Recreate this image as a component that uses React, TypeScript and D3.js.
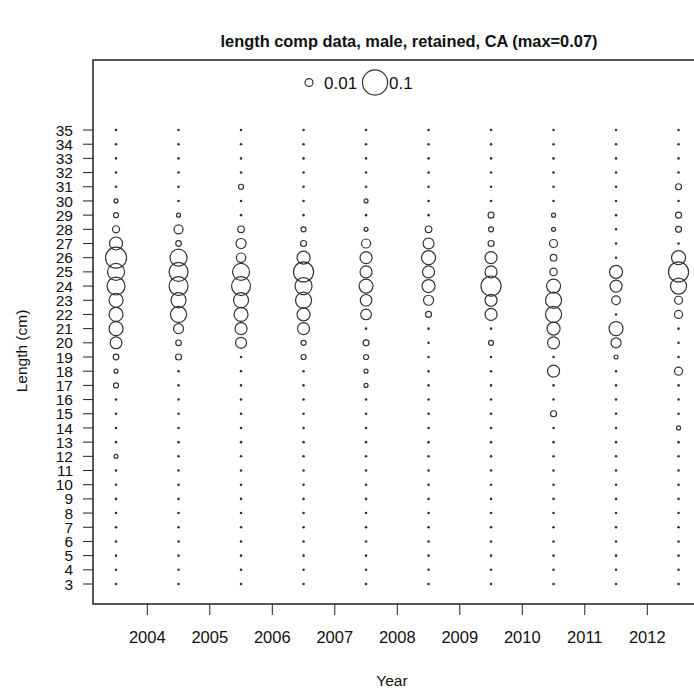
import React from "react";
import * as d3 from "d3";

// ---- data ----
const title = "length comp data, male, retained, CA (max=0.07)";
const yearTicks = [2004, 2005, 2006, 2007, 2008, 2009, 2010, 2011, 2012];
const columnYears = [2003.5, 2004.5, 2005.5, 2006.5, 2007.5, 2008.5, 2009.5, 2010.5, 2011.5, 2012.5];
const lengthBins = d3.range(3, 36); // 3..35 cm
const legendValues = [0.01, 0.1];

// proportions per column, lengths 3..35
const p2003 = [0, 0, 0, 0, 0, 0, 0, 0, 0, 0.0025,
  0, 0, 0, 0, 0.004, 0.0025, 0.005, 0.022, 0.031, 0.031,
  0.031, 0.051, 0.046, 0.07, 0.027, 0.008, 0.004, 0.0025, 0, 0,
  0, 0, 0];
const p2004 = [0, 0, 0, 0, 0, 0, 0, 0, 0, 0,
  0, 0, 0, 0, 0, 0, 0.0057, 0.005, 0.016, 0.041,
  0.036, 0.057, 0.057, 0.046, 0.005, 0.013, 0.0025, 0, 0, 0,
  0, 0, 0];
const p2005 = [0, 0, 0, 0, 0, 0, 0, 0, 0, 0,
  0, 0, 0, 0, 0, 0, 0, 0.019, 0.023, 0.031,
  0.036, 0.057, 0.046, 0.014, 0.016, 0.007, 0, 0, 0.004, 0,
  0, 0, 0];
const p2006 = [0, 0, 0, 0, 0, 0, 0, 0, 0, 0,
  0, 0, 0, 0, 0, 0, 0.004, 0.004, 0.023, 0.027,
  0.041, 0.046, 0.064, 0.027, 0.0057, 0.004, 0, 0, 0, 0,
  0, 0, 0];
const p2007 = [0, 0, 0, 0, 0, 0, 0, 0, 0, 0,
  0, 0, 0, 0, 0.0025, 0.0025, 0.004, 0.0057, 0, 0.018,
  0.021, 0.031, 0.023, 0.023, 0.013, 0.0025, 0, 0.0025, 0, 0,
  0, 0, 0];
const p2008 = [0, 0, 0, 0, 0, 0, 0, 0, 0, 0,
  0, 0, 0, 0, 0, 0, 0, 0, 0, 0.0057,
  0.016, 0.027, 0.023, 0.031, 0.019, 0.007, 0, 0, 0, 0,
  0, 0, 0];
const p2009 = [0, 0, 0, 0, 0, 0, 0, 0, 0, 0,
  0, 0, 0, 0, 0, 0, 0, 0.004, 0, 0.023,
  0.023, 0.064, 0.023, 0.023, 0.0057, 0.004, 0.0057, 0, 0, 0,
  0, 0, 0];
const p2010 = [0, 0, 0, 0, 0, 0, 0, 0, 0, 0,
  0, 0, 0.0057, 0, 0, 0.023, 0, 0.023, 0.027, 0.041,
  0.041, 0.031, 0.0087, 0.007, 0.0102, 0.0025, 0.0025, 0, 0, 0,
  0, 0, 0];
const p2011 = [0, 0, 0, 0, 0, 0, 0, 0, 0, 0,
  0, 0, 0, 0, 0, 0, 0.0025, 0.016, 0.031, 0,
  0.012, 0.023, 0.027, 0, 0, 0, 0, 0, 0, 0,
  0, 0, 0];
const p2012 = [0, 0, 0, 0, 0, 0, 0, 0, 0, 0,
  0, 0.0025, 0, 0, 0, 0.0102, 0, 0, 0, 0.0102,
  0.0102, 0.041, 0.064, 0.031, 0, 0.0057, 0.0057, 0, 0.0057, 0,
  0, 0, 0];
const columns = [p2003, p2004, p2005, p2006, p2007, p2008, p2009, p2010, p2011, p2012];

const W = 694;
const H = 692;
const FONT = "'Liberation Sans', Arial, sans-serif";

export default function App() {
  const left = 93, right = 701, top = 60, bottom = 604;
  const x = d3.scaleLinear().domain([2004, 2012]).range([147.3, 647.3]);
  const y = d3.scaleLinear().domain([3, 35]).range([584, 130]);
  const r = d3.scaleSqrt().domain([0, 0.07]).range([0, 10.5]);

  const points: { cx: number; cy: number; v: number; key: string }[] = [];
  columns.forEach((col, ci) => {
    col.forEach((v, li) => {
      points.push({ cx: x(columnYears[ci]), cy: y(lengthBins[li]), v, key: `${ci}-${li}` });
    });
  });

  return (
    <svg width={W} height={H} style={{ position: "fixed", left: 0, top: 0, background: "#fff" }}
      fontFamily={FONT}>
      <rect x={0} y={0} width={W} height={H} fill="#fff" />
      <text x={409} y={47} textAnchor="middle" fontWeight="bold" fontSize={16.4} fill="#111">{title}</text>

      {/* bubbles */}
      {points.map((p) =>
        p.v > 0 ? (
          <circle key={p.key} cx={p.cx} cy={p.cy} r={r(p.v)} fill="none" stroke="#333" strokeWidth={1.2} />
        ) : (
          <circle key={p.key} cx={p.cx} cy={p.cy} r={1.3} fill="#333" />
        )
      )}

      {/* legend */}
      <circle cx={309} cy={82.5} r={r(legendValues[0])} fill="none" stroke="#333" strokeWidth={1.2} />
      <text x={324} y={88.5} fontSize={17} fill="#111">{String(legendValues[0])}</text>
      <circle cx={375} cy={82.5} r={r(legendValues[1])} fill="none" stroke="#333" strokeWidth={1.2} />
      <text x={389} y={88.5} fontSize={17} fill="#111">{String(legendValues[1])}</text>

      {/* box */}
      <rect x={left} y={top} width={right - left} height={bottom - top} fill="none" stroke="#222" strokeWidth={1.5} />

      {/* y axis */}
      {lengthBins.map((l) => (
        <g key={`yt${l}`}>
          <line x1={left - 10} x2={left} y1={y(l)} y2={y(l)} stroke="#222" strokeWidth={1} />
          <text x={73} y={y(l)} dy="0.36em" textAnchor="end" fontSize={15.5} fill="#111">{l}</text>
        </g>
      ))}

      {/* x axis */}
      {yearTicks.map((t) => (
        <g key={`xt${t}`}>
          <line x1={x(t)} x2={x(t)} y1={bottom} y2={bottom + 11} stroke="#222" strokeWidth={1} />
          <text x={x(t)} y={643} textAnchor="middle" fontSize={16.5} fill="#111">{t}</text>
        </g>
      ))}

      <text x={392} y={686} textAnchor="middle" fontSize={15.5} fill="#111">Year</text>
      <text transform={`translate(27,351) rotate(-90)`} textAnchor="middle" fontSize={15.5} fill="#111">Length (cm)</text>
    </svg>
  );
}
